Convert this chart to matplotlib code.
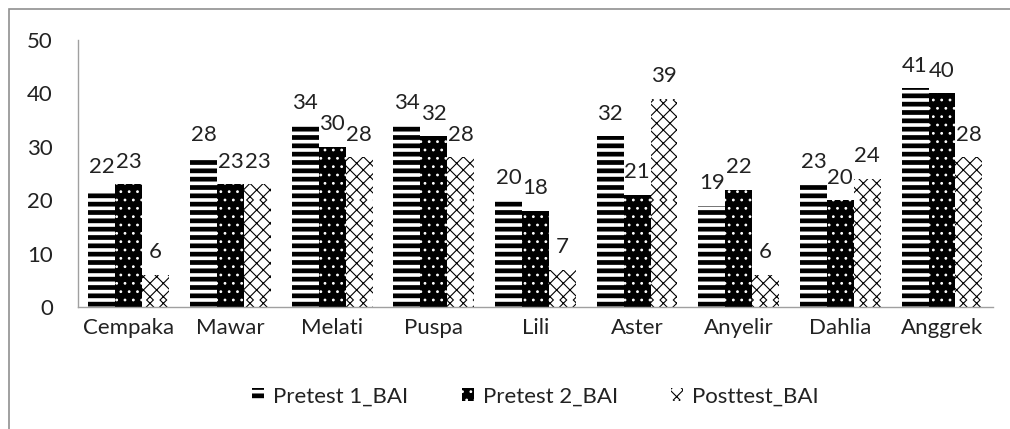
import numpy as np
import matplotlib
matplotlib.use("Agg")
import matplotlib.pyplot as plt
import matplotlib.hatch as mhatch
from matplotlib.patches import Rectangle

categories = ['Cempaka', 'Mawar', 'Melati', 'Puspa', 'Lili', 'Aster', 'Anyelir', 'Dahlia', 'Anggrek']
pretest1 = [22, 28, 34, 34, 20, 32, 19, 23, 41]
pretest2 = [23, 23, 30, 32, 18, 21, 22, 20, 40]
posttest = [6, 23, 28, 28, 7, 39, 6, 24, 28]
series_names = ['Pretest 1_BAI', 'Pretest 2_BAI', 'Posttest_BAI']


# denser diagonal hatch than the default, closer to the Excel lattice fill
class NEDense(mhatch.NorthEastHatch):
    def __init__(self, hatch, density):
        super().__init__(hatch, density * 2.5)


class SEDense(mhatch.SouthEastHatch):
    def __init__(self, hatch, density):
        super().__init__(hatch, density * 2.5)


mhatch._hatch_types = [NEDense if h is mhatch.NorthEastHatch else
                       SEDense if h is mhatch.SouthEastHatch else h
                       for h in mhatch._hatch_types]

plt.rcParams['font.family'] = ['Lato', 'DejaVu Sans']
plt.rcParams['hatch.linewidth'] = 3.4
fs = 16
txt_color = '#222222'
thin_hatch = 0.8

fig = plt.figure(figsize=(10.1, 4.29), dpi=100)
ax = fig.add_axes([0.0772, 0.2844, 0.9058, 0.6224])

x = np.arange(len(categories))
w = 0.265

# Pretest 1: horizontal black stripes
b1 = ax.bar(x - w, pretest1, w, facecolor='white', edgecolor='black', linewidth=0, hatch='--')
# Pretest 2: black with white dots
b2 = ax.bar(x, pretest2, w, facecolor='black', edgecolor='white', linewidth=0, hatch='..')
for b in b2:
    b._hatch_linewidth = thin_hatch
# Posttest: lattice
b3 = ax.bar(x + w, posttest, w, facecolor='white', edgecolor='black', linewidth=0, hatch='x')
for b in b3:
    b._hatch_linewidth = thin_hatch

# value labels
for bars, vals in [(b1, pretest1), (b2, pretest2), (b3, posttest)]:
    for rect, v in zip(bars, vals):
        ax.annotate(str(v), (rect.get_x() + rect.get_width() / 2, v),
                    xytext=(0, 9), textcoords='offset points',
                    ha='center', va='bottom', fontsize=fs, color=txt_color)

ax.set_xlim(-0.5, len(categories) - 0.5)
ax.set_ylim(0, 50)
ax.set_yticks([0, 10, 20, 30, 40, 50])
ax.set_xticks(x)
ax.set_xticklabels(categories)
ax.tick_params(axis='both', length=0, labelsize=fs, colors=txt_color)
ax.tick_params(axis='y', pad=18)
ax.tick_params(axis='x', pad=8)
for side in ['top', 'right']:
    ax.spines[side].set_visible(False)
for side in ['left', 'bottom']:
    ax.spines[side].set_color('#a0a0a0')
    ax.spines[side].set_linewidth(1.0)

leg = ax.legend([b1, b2, b3], series_names, loc='center', bbox_to_anchor=(0.5, -0.335),
                ncol=3, frameon=False, fontsize=fs, handlelength=0.55, handleheight=0.55,
                columnspacing=2.4, handletextpad=0.4)
for t in leg.get_texts():
    t.set_color(txt_color)
# legend handles don't inherit the per-bar hatch width
for h in leg.legend_handles[1:]:
    h._hatch_linewidth = thin_hatch

# outer chart border (open on right/bottom as in the source image)
fig.patches.append(Rectangle((9 / 1010, -0.1), 1.2, 1 - 9 / 429 + 0.1,
                             transform=fig.transFigure, fill=False,
                             edgecolor='#909090', linewidth=1.2))

plt.savefig('out.png', dpi=100)
plt.close()
